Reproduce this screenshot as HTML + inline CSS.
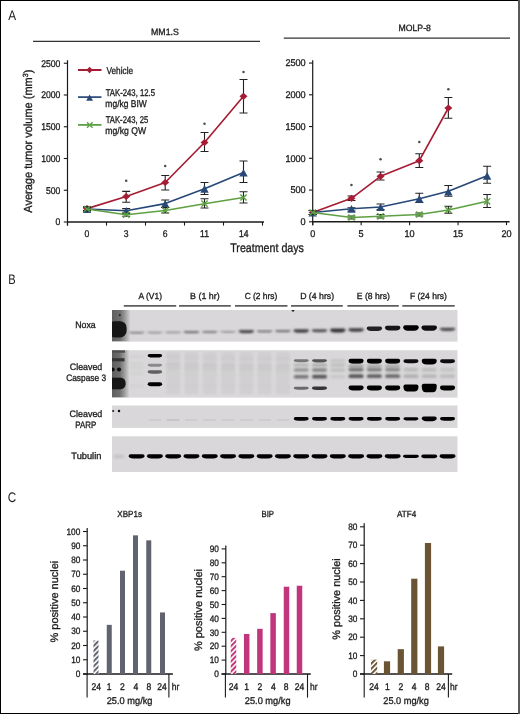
<!DOCTYPE html>
<html><head><meta charset="utf-8"><style>
html,body{margin:0;padding:0;background:#fff;width:520px;height:714px;overflow:hidden;}
svg{display:block;font-family:"Liberation Sans", sans-serif;will-change:transform;}
text{stroke:#1c1c1c;stroke-width:0.32px;}
text.pl{stroke:none;}
</style></head><body>
<svg width="520" height="714" viewBox="0 0 520 714" font-family='"Liberation Sans", sans-serif' text-rendering="geometricPrecision">
<defs>
<filter id="b0" x="-50%" y="-50%" width="200%" height="200%"><feGaussianBlur stdDeviation="0.5"/></filter>
<filter id="b1" x="-50%" y="-50%" width="200%" height="200%"><feGaussianBlur stdDeviation="0.9"/></filter>
<filter id="b2" x="-50%" y="-50%" width="200%" height="200%"><feGaussianBlur stdDeviation="1.6"/></filter>
<filter id="b3" x="-50%" y="-50%" width="200%" height="200%"><feGaussianBlur stdDeviation="2.5"/></filter>
<pattern id="hatchG" patternUnits="userSpaceOnUse" width="3.6" height="3.6" patternTransform="rotate(45)"><rect width="3.6" height="3.6" fill="#fff"/><rect width="2.0" height="3.6" fill="#61646f"/></pattern>
<pattern id="hatchM" patternUnits="userSpaceOnUse" width="3.6" height="3.6" patternTransform="rotate(45)"><rect width="3.6" height="3.6" fill="#fff"/><rect width="2.0" height="3.6" fill="#c0357b"/></pattern>
<pattern id="hatchB" patternUnits="userSpaceOnUse" width="3.6" height="3.6" patternTransform="rotate(45)"><rect width="3.6" height="3.6" fill="#fff"/><rect width="2.0" height="3.6" fill="#6b5434"/></pattern>
</defs>
<rect x="0" y="0" width="520" height="714" fill="#fff"/>
<text class="pl" x="8.32" y="19.60" font-size="13.8" fill="#1c1c1c" textLength="7.85" lengthAdjust="spacingAndGlyphs">A</text>
<text x="151.03" y="35.00" font-size="9.1" fill="#1c1c1c" textLength="27.79" lengthAdjust="spacingAndGlyphs">MM1.S</text>
<line x1="33.00" y1="41.30" x2="260.00" y2="41.30" stroke="#333" stroke-width="1.3"/>
<line x1="67.50" y1="60.20" x2="67.50" y2="225.60" stroke="#1a1a1a" stroke-width="1.2"/>
<line x1="63.80" y1="222.00" x2="67.50" y2="222.00" stroke="#1a1a1a" stroke-width="1.1"/>
<text x="55.54" y="225.40" font-size="9.8" fill="#1c1c1c" textLength="4.80" lengthAdjust="spacingAndGlyphs">0</text>
<line x1="63.80" y1="190.25" x2="67.50" y2="190.25" stroke="#1a1a1a" stroke-width="1.1"/>
<text x="45.94" y="193.65" font-size="9.8" fill="#1c1c1c" textLength="14.39" lengthAdjust="spacingAndGlyphs">500</text>
<line x1="63.80" y1="158.50" x2="67.50" y2="158.50" stroke="#1a1a1a" stroke-width="1.1"/>
<text x="41.16" y="161.90" font-size="9.8" fill="#1c1c1c" textLength="19.19" lengthAdjust="spacingAndGlyphs">1000</text>
<line x1="63.80" y1="126.75" x2="67.50" y2="126.75" stroke="#1a1a1a" stroke-width="1.1"/>
<text x="41.16" y="130.15" font-size="9.8" fill="#1c1c1c" textLength="19.19" lengthAdjust="spacingAndGlyphs">1500</text>
<line x1="63.80" y1="95.00" x2="67.50" y2="95.00" stroke="#1a1a1a" stroke-width="1.1"/>
<text x="41.16" y="98.40" font-size="9.8" fill="#1c1c1c" textLength="19.19" lengthAdjust="spacingAndGlyphs">2000</text>
<line x1="63.80" y1="63.25" x2="67.50" y2="63.25" stroke="#1a1a1a" stroke-width="1.1"/>
<text x="41.16" y="66.65" font-size="9.8" fill="#1c1c1c" textLength="19.19" lengthAdjust="spacingAndGlyphs">2500</text>
<line x1="67.00" y1="222.00" x2="264.00" y2="222.00" stroke="#1a1a1a" stroke-width="1.4"/>
<line x1="67.50" y1="222.00" x2="67.50" y2="225.60" stroke="#1a1a1a" stroke-width="1.1"/>
<line x1="106.50" y1="222.00" x2="106.50" y2="225.60" stroke="#1a1a1a" stroke-width="1.1"/>
<line x1="145.50" y1="222.00" x2="145.50" y2="225.60" stroke="#1a1a1a" stroke-width="1.1"/>
<line x1="184.50" y1="222.00" x2="184.50" y2="225.60" stroke="#1a1a1a" stroke-width="1.1"/>
<line x1="223.50" y1="222.00" x2="223.50" y2="225.60" stroke="#1a1a1a" stroke-width="1.1"/>
<line x1="262.50" y1="222.00" x2="262.50" y2="225.60" stroke="#1a1a1a" stroke-width="1.1"/>
<text x="84.60" y="236.60" font-size="9.8" fill="#1c1c1c" textLength="4.80" lengthAdjust="spacingAndGlyphs">0</text>
<text x="123.80" y="236.60" font-size="9.8" fill="#1c1c1c" textLength="4.80" lengthAdjust="spacingAndGlyphs">3</text>
<text x="162.80" y="236.60" font-size="9.8" fill="#1c1c1c" textLength="4.80" lengthAdjust="spacingAndGlyphs">6</text>
<text x="200.02" y="236.60" font-size="9.8" fill="#1c1c1c" textLength="8.95" lengthAdjust="spacingAndGlyphs">11</text>
<text x="238.90" y="236.60" font-size="9.8" fill="#1c1c1c" textLength="9.59" lengthAdjust="spacingAndGlyphs">14</text>
<text x="230.21" y="251.60" font-size="12.4" fill="#1c1c1c" textLength="73.72" lengthAdjust="spacingAndGlyphs">Treatment days</text>
<text x="-0.03" y="0" font-size="11.7" fill="#1c1c1c" textLength="143.01" lengthAdjust="spacingAndGlyphs" transform="translate(32.10,212.65) rotate(-90)">Average tumor volume (mm<tspan font-size="7.5" dy="-4.2">3</tspan><tspan dy="4.2">)</tspan></text>
<line x1="78.00" y1="70.00" x2="101.50" y2="70.00" stroke="#a51c34" stroke-width="2.0"/>
<path d="M89.60 66.70L92.80 70.00L89.60 73.30L86.40 70.00Z" fill="#a51c34"/>
<text x="106.41" y="73.50" font-size="9.9" fill="#1c1c1c" textLength="26.71" lengthAdjust="spacingAndGlyphs">Vehicle</text>
<line x1="78.00" y1="97.10" x2="101.50" y2="97.10" stroke="#284878" stroke-width="1.7"/>
<path d="M89.60 94.48L93.00 100.73L86.20 100.73Z" fill="#284878"/>
<text x="105.73" y="95.50" font-size="9.8" fill="#1c1c1c" textLength="49.25" lengthAdjust="spacingAndGlyphs">TAK-243, 12.5</text>
<text x="105.33" y="106.50" font-size="9.8" fill="#1c1c1c" textLength="41.56" lengthAdjust="spacingAndGlyphs">mg/kg BIW</text>
<line x1="78.00" y1="124.90" x2="101.50" y2="124.90" stroke="#5ea043" stroke-width="1.8"/>
<path d="M87.00 122.20Q89.8 125 92.60 127.80M92.60 122.20Q89.8 125 87.00 127.80" stroke="#5ea043" stroke-width="1.4" fill="none"/>
<text x="105.73" y="122.50" font-size="9.8" fill="#1c1c1c" textLength="42.53" lengthAdjust="spacingAndGlyphs">TAK-243, 25</text>
<text x="105.32" y="133.50" font-size="9.8" fill="#1c1c1c" textLength="40.86" lengthAdjust="spacingAndGlyphs">mg/kg QW</text>
<path d="M87.00 207.00V210.50M83.00 207.00H91.00M83.00 210.50H91.00" stroke="#222" stroke-width="1.1" fill="none"/>
<path d="M126.20 191.40V202.30M122.20 191.40H130.20M122.20 202.30H130.20" stroke="#222" stroke-width="1.1" fill="none"/>
<path d="M165.20 175.50V190.00M161.20 175.50H169.20M161.20 190.00H169.20" stroke="#222" stroke-width="1.1" fill="none"/>
<path d="M204.50 132.50V151.50M200.50 132.50H208.50M200.50 151.50H208.50" stroke="#222" stroke-width="1.1" fill="none"/>
<path d="M243.50 79.50V113.00M239.50 79.50H247.50M239.50 113.00H247.50" stroke="#222" stroke-width="1.1" fill="none"/>
<polyline points="87.00,208.60 126.20,196.50 165.20,182.50 204.50,142.50 243.50,96.30" stroke="#a51c34" stroke-width="1.65" fill="none" stroke-linejoin="round"/>
<path d="M87.00 205.00L91.00 208.60L87.00 212.20L83.00 208.60Z" fill="#a51c34"/>
<path d="M126.20 192.90L130.20 196.50L126.20 200.10L122.20 196.50Z" fill="#a51c34"/>
<path d="M165.20 178.90L169.20 182.50L165.20 186.10L161.20 182.50Z" fill="#a51c34"/>
<path d="M204.50 138.90L208.50 142.50L204.50 146.10L200.50 142.50Z" fill="#a51c34"/>
<path d="M243.50 92.70L247.50 96.30L243.50 99.90L239.50 96.30Z" fill="#a51c34"/>
<path d="M87.00 207.00V211.00M83.00 207.00H91.00M83.00 211.00H91.00" stroke="#222" stroke-width="1.1" fill="none"/>
<path d="M126.20 208.60V213.00M122.20 208.60H130.20M122.20 213.00H130.20" stroke="#222" stroke-width="1.1" fill="none"/>
<path d="M165.20 200.00V207.50M161.20 200.00H169.20M161.20 207.50H169.20" stroke="#222" stroke-width="1.1" fill="none"/>
<path d="M204.50 182.50V194.50M200.50 182.50H208.50M200.50 194.50H208.50" stroke="#222" stroke-width="1.1" fill="none"/>
<path d="M243.50 161.00V182.50M239.50 161.00H247.50M239.50 182.50H247.50" stroke="#222" stroke-width="1.1" fill="none"/>
<polyline points="87.00,209.00 126.20,210.70 165.20,203.60 204.50,188.70 243.50,172.50" stroke="#284878" stroke-width="1.65" fill="none" stroke-linejoin="round"/>
<path d="M87.00 205.39L91.20 213.12L82.80 213.12Z" fill="#284878"/>
<path d="M126.20 207.09L130.40 214.82L122.00 214.82Z" fill="#284878"/>
<path d="M165.20 199.99L169.40 207.72L161.00 207.72Z" fill="#284878"/>
<path d="M204.50 185.09L208.70 192.82L200.30 192.82Z" fill="#284878"/>
<path d="M243.50 168.89L247.70 176.62L239.30 176.62Z" fill="#284878"/>
<path d="M87.00 207.00V211.00M83.00 207.00H91.00M83.00 211.00H91.00" stroke="#222" stroke-width="1.1" fill="none"/>
<path d="M126.20 213.20V216.20M122.20 213.20H130.20M122.20 216.20H130.20" stroke="#222" stroke-width="1.1" fill="none"/>
<path d="M165.20 207.50V213.00M161.20 207.50H169.20M161.20 213.00H169.20" stroke="#222" stroke-width="1.1" fill="none"/>
<path d="M204.50 198.70V208.00M200.50 198.70H208.50M200.50 208.00H208.50" stroke="#222" stroke-width="1.1" fill="none"/>
<path d="M243.50 191.70V203.00M239.50 191.70H247.50M239.50 203.00H247.50" stroke="#222" stroke-width="1.1" fill="none"/>
<polyline points="87.00,209.00 126.20,214.70 165.20,210.50 204.50,203.70 243.50,197.50" stroke="#5ea043" stroke-width="1.65" fill="none" stroke-linejoin="round"/>
<path d="M83.90 205.90Q87 209.0 90.10 212.10M90.10 205.90Q87 209.0 83.90 212.10" stroke="#5ea043" stroke-width="1.4" fill="none"/>
<path d="M123.10 211.60Q126.2 214.7 129.30 217.80M129.30 211.60Q126.2 214.7 123.10 217.80" stroke="#5ea043" stroke-width="1.4" fill="none"/>
<path d="M162.10 207.40Q165.2 210.5 168.30 213.60M168.30 207.40Q165.2 210.5 162.10 213.60" stroke="#5ea043" stroke-width="1.4" fill="none"/>
<path d="M201.40 200.60Q204.5 203.7 207.60 206.80M207.60 200.60Q204.5 203.7 201.40 206.80" stroke="#5ea043" stroke-width="1.4" fill="none"/>
<path d="M240.40 194.40Q243.5 197.5 246.60 200.60M246.60 194.40Q243.5 197.5 240.40 200.60" stroke="#5ea043" stroke-width="1.4" fill="none"/>
<circle cx="126.20" cy="180.70" r="1.25" fill="#4a4a4a"/>
<circle cx="165.20" cy="166.00" r="1.25" fill="#4a4a4a"/>
<circle cx="204.50" cy="123.70" r="1.25" fill="#4a4a4a"/>
<circle cx="243.50" cy="72.00" r="1.25" fill="#4a4a4a"/>
<text x="398.53" y="31.40" font-size="9.1" fill="#1c1c1c" textLength="32.39" lengthAdjust="spacingAndGlyphs">MOLP-8</text>
<line x1="283.80" y1="38.10" x2="510.00" y2="38.10" stroke="#333" stroke-width="1.3"/>
<line x1="312.70" y1="60.20" x2="312.70" y2="225.20" stroke="#1a1a1a" stroke-width="1.2"/>
<line x1="309.00" y1="221.80" x2="312.70" y2="221.80" stroke="#1a1a1a" stroke-width="1.1"/>
<text x="300.58" y="225.00" font-size="9.8" fill="#1c1c1c" textLength="5.07" lengthAdjust="spacingAndGlyphs">0</text>
<line x1="309.00" y1="190.05" x2="312.70" y2="190.05" stroke="#1a1a1a" stroke-width="1.1"/>
<text x="290.44" y="193.25" font-size="9.8" fill="#1c1c1c" textLength="15.21" lengthAdjust="spacingAndGlyphs">500</text>
<line x1="309.00" y1="158.30" x2="312.70" y2="158.30" stroke="#1a1a1a" stroke-width="1.1"/>
<text x="285.39" y="161.50" font-size="9.8" fill="#1c1c1c" textLength="20.28" lengthAdjust="spacingAndGlyphs">1000</text>
<line x1="309.00" y1="126.55" x2="312.70" y2="126.55" stroke="#1a1a1a" stroke-width="1.1"/>
<text x="285.39" y="129.75" font-size="9.8" fill="#1c1c1c" textLength="20.28" lengthAdjust="spacingAndGlyphs">1500</text>
<line x1="309.00" y1="94.80" x2="312.70" y2="94.80" stroke="#1a1a1a" stroke-width="1.1"/>
<text x="285.39" y="98.00" font-size="9.8" fill="#1c1c1c" textLength="20.28" lengthAdjust="spacingAndGlyphs">2000</text>
<line x1="309.00" y1="63.05" x2="312.70" y2="63.05" stroke="#1a1a1a" stroke-width="1.1"/>
<text x="285.39" y="66.25" font-size="9.8" fill="#1c1c1c" textLength="20.28" lengthAdjust="spacingAndGlyphs">2500</text>
<line x1="312.00" y1="221.80" x2="509.60" y2="221.80" stroke="#1a1a1a" stroke-width="1.4"/>
<line x1="312.70" y1="221.80" x2="312.70" y2="225.20" stroke="#1a1a1a" stroke-width="1.1"/>
<text x="310.17" y="237.40" font-size="9.8" fill="#1c1c1c" textLength="5.07" lengthAdjust="spacingAndGlyphs">0</text>
<line x1="361.15" y1="221.80" x2="361.15" y2="225.20" stroke="#1a1a1a" stroke-width="1.1"/>
<text x="358.62" y="237.40" font-size="9.8" fill="#1c1c1c" textLength="5.07" lengthAdjust="spacingAndGlyphs">5</text>
<line x1="409.60" y1="221.80" x2="409.60" y2="225.20" stroke="#1a1a1a" stroke-width="1.1"/>
<text x="404.53" y="237.40" font-size="9.8" fill="#1c1c1c" textLength="10.14" lengthAdjust="spacingAndGlyphs">10</text>
<line x1="458.05" y1="221.80" x2="458.05" y2="225.20" stroke="#1a1a1a" stroke-width="1.1"/>
<text x="452.98" y="237.40" font-size="9.8" fill="#1c1c1c" textLength="10.14" lengthAdjust="spacingAndGlyphs">15</text>
<line x1="506.50" y1="221.80" x2="506.50" y2="225.20" stroke="#1a1a1a" stroke-width="1.1"/>
<text x="501.43" y="237.40" font-size="9.8" fill="#1c1c1c" textLength="10.14" lengthAdjust="spacingAndGlyphs">20</text>
<path d="M312.70 210.50V214.50M308.70 210.50H316.70M308.70 214.50H316.70" stroke="#222" stroke-width="1.1" fill="none"/>
<path d="M351.46 196.00V200.50M347.46 196.00H355.46M347.46 200.50H355.46" stroke="#222" stroke-width="1.1" fill="none"/>
<path d="M380.53 172.00V180.00M376.53 172.00H384.53M376.53 180.00H384.53" stroke="#222" stroke-width="1.1" fill="none"/>
<path d="M419.29 153.70V167.50M415.29 153.70H423.29M415.29 167.50H423.29" stroke="#222" stroke-width="1.1" fill="none"/>
<path d="M448.36 97.50V118.20M444.36 97.50H452.36M444.36 118.20H452.36" stroke="#222" stroke-width="1.1" fill="none"/>
<polyline points="312.70,212.50 351.46,198.30 380.53,176.30 419.29,160.70 448.36,108.00" stroke="#a51c34" stroke-width="1.65" fill="none" stroke-linejoin="round"/>
<path d="M312.70 208.90L316.70 212.50L312.70 216.10L308.70 212.50Z" fill="#a51c34"/>
<path d="M351.46 194.70L355.46 198.30L351.46 201.90L347.46 198.30Z" fill="#a51c34"/>
<path d="M380.53 172.70L384.53 176.30L380.53 179.90L376.53 176.30Z" fill="#a51c34"/>
<path d="M419.29 157.10L423.29 160.70L419.29 164.30L415.29 160.70Z" fill="#a51c34"/>
<path d="M448.36 104.40L452.36 108.00L448.36 111.60L444.36 108.00Z" fill="#a51c34"/>
<path d="M312.70 210.50V214.50M308.70 210.50H316.70M308.70 214.50H316.70" stroke="#222" stroke-width="1.1" fill="none"/>
<path d="M351.46 207.80V211.00M347.46 207.80H355.46M347.46 211.00H355.46" stroke="#222" stroke-width="1.1" fill="none"/>
<path d="M380.53 204.00V209.50M376.53 204.00H384.53M376.53 209.50H384.53" stroke="#222" stroke-width="1.1" fill="none"/>
<path d="M419.29 193.20V202.50M415.29 193.20H423.29M415.29 202.50H423.29" stroke="#222" stroke-width="1.1" fill="none"/>
<path d="M448.36 185.50V196.20M444.36 185.50H452.36M444.36 196.20H452.36" stroke="#222" stroke-width="1.1" fill="none"/>
<path d="M487.12 166.20V183.20M483.12 166.20H491.12M483.12 183.20H491.12" stroke="#222" stroke-width="1.1" fill="none"/>
<polyline points="312.70,212.50 351.46,208.70 380.53,207.00 419.29,198.70 448.36,191.30 487.12,175.70" stroke="#284878" stroke-width="1.65" fill="none" stroke-linejoin="round"/>
<path d="M312.70 208.89L316.90 216.62L308.50 216.62Z" fill="#284878"/>
<path d="M351.46 205.09L355.66 212.82L347.26 212.82Z" fill="#284878"/>
<path d="M380.53 203.39L384.73 211.12L376.33 211.12Z" fill="#284878"/>
<path d="M419.29 195.09L423.49 202.82L415.09 202.82Z" fill="#284878"/>
<path d="M448.36 187.69L452.56 195.42L444.16 195.42Z" fill="#284878"/>
<path d="M487.12 172.09L491.32 179.82L482.92 179.82Z" fill="#284878"/>
<path d="M312.70 210.50V214.50M308.70 210.50H316.70M308.70 214.50H316.70" stroke="#222" stroke-width="1.1" fill="none"/>
<path d="M351.46 216.00V219.00M347.46 216.00H355.46M347.46 219.00H355.46" stroke="#222" stroke-width="1.1" fill="none"/>
<path d="M380.53 214.50V218.00M376.53 214.50H384.53M376.53 218.00H384.53" stroke="#222" stroke-width="1.1" fill="none"/>
<path d="M419.29 213.00V216.00M415.29 213.00H423.29M415.29 216.00H423.29" stroke="#222" stroke-width="1.1" fill="none"/>
<path d="M448.36 206.20V213.20M444.36 206.20H452.36M444.36 213.20H452.36" stroke="#222" stroke-width="1.1" fill="none"/>
<path d="M487.12 194.50V207.50M483.12 194.50H491.12M483.12 207.50H491.12" stroke="#222" stroke-width="1.1" fill="none"/>
<polyline points="312.70,212.50 351.46,217.50 380.53,216.30 419.29,214.50 448.36,210.00 487.12,201.30" stroke="#5ea043" stroke-width="1.65" fill="none" stroke-linejoin="round"/>
<path d="M309.60 209.40Q312.7 212.5 315.80 215.60M315.80 209.40Q312.7 212.5 309.60 215.60" stroke="#5ea043" stroke-width="1.4" fill="none"/>
<path d="M348.36 214.40Q351.46 217.5 354.56 220.60M354.56 214.40Q351.46 217.5 348.36 220.60" stroke="#5ea043" stroke-width="1.4" fill="none"/>
<path d="M377.43 213.20Q380.53 216.3 383.63 219.40M383.63 213.20Q380.53 216.3 377.43 219.40" stroke="#5ea043" stroke-width="1.4" fill="none"/>
<path d="M416.19 211.40Q419.28999999999996 214.5 422.39 217.60M422.39 211.40Q419.28999999999996 214.5 416.19 217.60" stroke="#5ea043" stroke-width="1.4" fill="none"/>
<path d="M445.26 206.90Q448.36 210 451.46 213.10M451.46 206.90Q448.36 210 445.26 213.10" stroke="#5ea043" stroke-width="1.4" fill="none"/>
<path d="M484.02 198.20Q487.12 201.3 490.22 204.40M490.22 198.20Q487.12 201.3 484.02 204.40" stroke="#5ea043" stroke-width="1.4" fill="none"/>
<circle cx="351.46" cy="185.00" r="1.25" fill="#4a4a4a"/>
<circle cx="380.53" cy="159.30" r="1.25" fill="#4a4a4a"/>
<circle cx="419.29" cy="142.00" r="1.25" fill="#4a4a4a"/>
<circle cx="448.36" cy="89.30" r="1.25" fill="#4a4a4a"/>
<text class="pl" x="8.24" y="283.75" font-size="13.8" fill="#1c1c1c" textLength="7.39" lengthAdjust="spacingAndGlyphs">B</text>
<line x1="123.80" y1="305.90" x2="176.20" y2="305.90" stroke="#5e5e5e" stroke-width="1.8"/>
<text x="138.53" y="299.20" font-size="8.9" fill="#1c1c1c" textLength="23.46" lengthAdjust="spacingAndGlyphs">A (V1)</text>
<line x1="179.00" y1="305.90" x2="230.80" y2="305.90" stroke="#5e5e5e" stroke-width="1.8"/>
<text x="190.12" y="299.20" font-size="8.9" fill="#1c1c1c" textLength="29.60" lengthAdjust="spacingAndGlyphs">B (1 hr)</text>
<line x1="235.00" y1="305.90" x2="287.50" y2="305.90" stroke="#5e5e5e" stroke-width="1.8"/>
<text x="244.63" y="299.20" font-size="8.9" fill="#1c1c1c" textLength="32.74" lengthAdjust="spacingAndGlyphs">C (2 hrs)</text>
<line x1="291.00" y1="305.90" x2="342.80" y2="305.90" stroke="#5e5e5e" stroke-width="1.8"/>
<text x="300.13" y="299.20" font-size="8.9" fill="#1c1c1c" textLength="33.96" lengthAdjust="spacingAndGlyphs">D (4 hrs)</text>
<line x1="347.40" y1="305.90" x2="398.80" y2="305.90" stroke="#5e5e5e" stroke-width="1.8"/>
<text x="356.84" y="299.20" font-size="8.9" fill="#1c1c1c" textLength="33.06" lengthAdjust="spacingAndGlyphs">E (8 hrs)</text>
<line x1="402.30" y1="305.90" x2="454.70" y2="305.90" stroke="#5e5e5e" stroke-width="1.8"/>
<text x="409.95" y="299.20" font-size="8.9" fill="#1c1c1c" textLength="36.95" lengthAdjust="spacingAndGlyphs">F (24 hrs)</text>
<text x="75.28" y="327.80" font-size="9.4" fill="#1c1c1c" textLength="20.39" lengthAdjust="spacingAndGlyphs">Noxa</text>
<text x="69.81" y="370.10" font-size="9.4" fill="#1c1c1c" textLength="32.51" lengthAdjust="spacingAndGlyphs">Cleaved</text>
<text x="66.13" y="381.40" font-size="9.4" fill="#1c1c1c" textLength="39.98" lengthAdjust="spacingAndGlyphs">Caspase 3</text>
<text x="69.60" y="416.50" font-size="9.4" fill="#1c1c1c" textLength="32.72" lengthAdjust="spacingAndGlyphs">Cleaved</text>
<text x="75.30" y="428.00" font-size="9.4" fill="#1c1c1c" textLength="20.96" lengthAdjust="spacingAndGlyphs">PARP</text>
<text x="71.34" y="458.80" font-size="9.4" fill="#1c1c1c" textLength="30.01" lengthAdjust="spacingAndGlyphs">Tubulin</text>
<rect x="112" y="310" width="345.5" height="31.6" fill="#d9d7d9"/>
<rect x="112" y="350.2" width="345.5" height="47.4" fill="#d9d7d9"/>
<rect x="112" y="405.5" width="345.5" height="22.4" fill="#d9d7d9"/>
<rect x="112" y="436.3" width="345.5" height="35.7" fill="#d9d7d9"/>
<clipPath id="blots"><rect x="112" y="310" width="345.5" height="31.6"/><rect x="112" y="350.2" width="345.5" height="47.4"/><rect x="112" y="405.5" width="345.5" height="22.4"/><rect x="112" y="436.3" width="345.5" height="35.7"/></clipPath>
<g clip-path="url(#blots)">
<linearGradient id="mkg" x1="0" x2="1" y1="0" y2="0"><stop offset="0" stop-color="#5e5e5e"/><stop offset="0.45" stop-color="#6e6e6e"/><stop offset="0.72" stop-color="#9a9a9a"/><stop offset="1" stop-color="#d2d1d2"/></linearGradient>
<rect x="112" y="310" width="18" height="31.6" fill="url(#mkg)"/>
<rect x="108" y="321.2" width="18.6" height="16.2" rx="6.5" fill="#141414" filter="url(#b0)"/>
<rect x="118.70" y="314.10" width="2.20" height="2.20" rx="1.10" fill="rgb(43,43,43)" filter="url(#b0)"/>
<path d="M291.3 310L294.7 310L293 312.2Z" fill="#222"/>
<path d="M128.85 332.80Q128.85 331.80 129.85 331.80L143.35 331.80Q144.35 331.80 144.35 332.80C144.35 332.92 142.35 333.80 139.85 333.80L133.35 333.80C130.85 333.80 128.85 332.92 128.85 332.80Z" fill="rgb(132,132,132)" filter="url(#b1)"/>
<path d="M147.14 332.60Q147.14 331.68 148.06 331.68L161.72 331.68Q162.64 331.68 162.64 332.60C162.64 332.70 160.64 333.52 158.14 333.52L151.64 333.52C149.14 333.52 147.14 332.70 147.14 332.60Z" fill="rgb(145,145,145)" filter="url(#b1)"/>
<path d="M165.43 332.40Q165.43 331.51 166.32 331.51L180.04 331.51Q180.93 331.51 180.93 332.40C180.93 332.49 178.93 333.29 176.43 333.29L169.93 333.29C167.43 333.29 165.43 332.49 165.43 332.40Z" fill="rgb(149,149,149)" filter="url(#b1)"/>
<path d="M183.72 332.20Q183.72 331.07 184.85 331.07L198.09 331.07Q199.22 331.07 199.22 332.20C199.22 332.38 197.22 333.33 194.72 333.33L188.22 333.33C185.72 333.33 183.72 332.38 183.72 332.20Z" fill="rgb(117,117,117)" filter="url(#b1)"/>
<path d="M202.01 332.00Q202.01 330.93 203.08 330.93L216.44 330.93Q217.51 330.93 217.51 332.00C217.51 332.15 215.51 333.07 213.01 333.07L206.51 333.07C204.01 333.07 202.01 332.15 202.01 332.00Z" fill="rgb(124,124,124)" filter="url(#b1)"/>
<path d="M220.30 331.80Q220.30 330.88 221.22 330.88L234.88 330.88Q235.80 330.88 235.80 331.80C235.80 331.90 233.80 332.72 231.30 332.72L224.80 332.72C222.30 332.72 220.30 331.90 220.30 331.80Z" fill="rgb(145,145,145)" filter="url(#b1)"/>
<path d="M238.59 331.60Q238.59 330.01 240.18 330.01L252.50 330.01Q254.09 330.01 254.09 331.60C254.09 332.04 252.09 333.19 249.59 333.19L243.09 333.19C240.59 333.19 238.59 332.04 238.59 331.60Z" fill="rgb(75,75,75)" filter="url(#b1)"/>
<path d="M256.88 331.40Q256.88 330.33 257.95 330.33L271.31 330.33Q272.38 330.33 272.38 331.40C272.38 331.55 270.38 332.47 267.88 332.47L261.38 332.47C258.88 332.47 256.88 331.55 256.88 331.40Z" fill="rgb(124,124,124)" filter="url(#b1)"/>
<path d="M275.17 331.20Q275.17 330.07 276.30 330.07L289.54 330.07Q290.67 330.07 290.67 331.20C290.67 331.38 288.67 332.33 286.17 332.33L279.67 332.33C277.17 332.33 275.17 331.38 275.17 331.20Z" fill="rgb(117,117,117)" filter="url(#b1)"/>
<path d="M293.46 331.00Q293.46 329.27 295.19 329.27L307.23 329.27Q308.96 329.27 308.96 331.00C308.96 331.53 306.96 332.73 304.46 332.73L297.96 332.73C295.46 332.73 293.46 331.53 293.46 331.00Z" fill="rgb(64,64,64)" filter="url(#b1)"/>
<path d="M311.75 330.80Q311.75 329.29 313.26 329.29L325.74 329.29Q327.25 329.29 327.25 330.80C327.25 331.19 325.25 332.31 322.75 332.31L316.25 332.31C313.75 332.31 311.75 331.19 311.75 330.80Z" fill="rgb(81,81,81)" filter="url(#b1)"/>
<path d="M330.04 330.50Q330.04 328.62 331.92 328.62L343.66 328.62Q345.54 328.62 345.54 330.50C345.54 331.13 343.54 332.38 341.04 332.38L334.54 332.38C332.04 332.38 330.04 331.13 330.04 330.50Z" fill="rgb(53,53,53)" filter="url(#b1)"/>
<path d="M348.33 330.00Q348.33 328.21 350.12 328.21L362.04 328.21Q363.83 328.21 363.83 330.00C363.83 330.57 361.83 331.79 359.33 331.79L352.83 331.79C350.33 331.79 348.33 330.57 348.33 330.00Z" fill="rgb(60,60,60)" filter="url(#b1)"/>
<path d="M366.62 328.48Q366.62 326.48 368.62 326.48L380.12 326.48Q382.12 326.48 382.12 328.48C382.12 329.57 380.12 330.92 377.62 330.92L371.12 330.92C368.62 330.92 366.62 329.57 366.62 328.48Z" fill="rgb(32,32,32)" filter="url(#b0)"/>
<path d="M384.91 327.80Q384.91 325.80 386.91 325.80L398.41 325.80Q400.41 325.80 400.41 327.80C400.41 329.20 398.41 330.60 395.91 330.60L389.41 330.60C386.91 330.60 384.91 329.20 384.91 327.80Z" fill="rgb(21,21,21)" filter="url(#b0)"/>
<path d="M403.20 327.20Q403.20 325.20 405.20 325.20L416.70 325.20Q418.70 325.20 418.70 327.20C418.70 329.30 416.70 330.80 414.20 330.80L407.70 330.80C405.20 330.80 403.20 329.30 403.20 327.20Z" fill="rgb(0,0,0)" filter="url(#b0)"/>
<path d="M421.49 327.50Q421.49 325.50 423.49 325.50L434.99 325.50Q436.99 325.50 436.99 327.50C436.99 329.25 434.99 330.70 432.49 330.70L425.99 330.70C423.49 330.70 421.49 329.25 421.49 327.50Z" fill="rgb(11,11,11)" filter="url(#b0)"/>
<path d="M439.78 329.30Q439.78 327.71 441.37 327.71L453.69 327.71Q455.28 327.71 455.28 329.30C455.28 329.74 453.28 330.89 450.78 330.89L444.28 330.89C441.78 330.89 439.78 329.74 439.78 329.30Z" fill="rgb(75,75,75)" filter="url(#b1)"/>
<rect x="112" y="350.2" width="17" height="47.4" fill="url(#mkg)"/>
<rect x="112" y="350.2" width="13" height="2.5" fill="#505050" filter="url(#b0)"/>
<rect x="110" y="358.2" width="14.5" height="3.2" fill="#353535" filter="url(#b0)"/>
<circle cx="112.7" cy="369.5" r="2" fill="#111" filter="url(#b0)"/>
<circle cx="119" cy="369.5" r="2.1" fill="#111" filter="url(#b0)"/>
<rect x="108" y="377.8" width="17.6" height="11.4" rx="5" fill="#141414" filter="url(#b0)"/>
<rect x="166.68" y="352" width="13" height="42" fill="#000" opacity="0.035" filter="url(#b1)"/>
<rect x="184.97" y="352" width="13" height="42" fill="#000" opacity="0.035" filter="url(#b1)"/>
<rect x="203.26" y="352" width="13" height="42" fill="#000" opacity="0.035" filter="url(#b1)"/>
<rect x="221.55" y="352" width="13" height="42" fill="#000" opacity="0.035" filter="url(#b1)"/>
<rect x="239.84" y="352" width="13" height="42" fill="#000" opacity="0.035" filter="url(#b1)"/>
<rect x="258.13" y="352" width="13" height="42" fill="#000" opacity="0.035" filter="url(#b1)"/>
<rect x="276.42" y="352" width="13" height="42" fill="#000" opacity="0.035" filter="url(#b1)"/>
<rect x="129.60" y="355.00" width="14.00" height="3.00" rx="1.50" fill="rgb(210,210,210)" filter="url(#b1)"/>
<rect x="129.60" y="362.50" width="14.00" height="3.00" rx="1.50" fill="rgb(210,210,210)" filter="url(#b1)"/>
<rect x="129.60" y="366.00" width="14.00" height="3.00" rx="1.50" fill="rgb(210,210,210)" filter="url(#b1)"/>
<rect x="129.60" y="371.50" width="14.00" height="3.00" rx="1.50" fill="rgb(210,210,210)" filter="url(#b1)"/>
<rect x="129.60" y="384.25" width="14.00" height="2.50" rx="1.25" fill="rgb(210,210,210)" filter="url(#b1)"/>
<rect x="166.18" y="355.59" width="14.00" height="3.00" rx="1.50" fill="rgb(204,204,204)" filter="url(#b1)"/>
<rect x="166.18" y="363.09" width="14.00" height="3.00" rx="1.50" fill="rgb(200,200,200)" filter="url(#b1)"/>
<rect x="166.18" y="366.59" width="14.00" height="3.00" rx="1.50" fill="rgb(202,202,202)" filter="url(#b1)"/>
<rect x="166.18" y="372.09" width="14.00" height="3.00" rx="1.50" fill="rgb(208,208,208)" filter="url(#b1)"/>
<rect x="166.18" y="384.60" width="14.00" height="2.50" rx="1.25" fill="rgb(207,207,207)" filter="url(#b1)"/>
<rect x="184.47" y="355.88" width="14.00" height="3.00" rx="1.50" fill="rgb(204,204,204)" filter="url(#b1)"/>
<rect x="184.47" y="363.38" width="14.00" height="3.00" rx="1.50" fill="rgb(200,200,200)" filter="url(#b1)"/>
<rect x="184.47" y="366.88" width="14.00" height="3.00" rx="1.50" fill="rgb(202,202,202)" filter="url(#b1)"/>
<rect x="184.47" y="372.38" width="14.00" height="3.00" rx="1.50" fill="rgb(208,208,208)" filter="url(#b1)"/>
<rect x="184.47" y="384.78" width="14.00" height="2.50" rx="1.25" fill="rgb(207,207,207)" filter="url(#b1)"/>
<rect x="202.76" y="356.18" width="14.00" height="3.00" rx="1.50" fill="rgb(204,204,204)" filter="url(#b1)"/>
<rect x="202.76" y="363.68" width="14.00" height="3.00" rx="1.50" fill="rgb(200,200,200)" filter="url(#b1)"/>
<rect x="202.76" y="367.18" width="14.00" height="3.00" rx="1.50" fill="rgb(202,202,202)" filter="url(#b1)"/>
<rect x="202.76" y="372.68" width="14.00" height="3.00" rx="1.50" fill="rgb(208,208,208)" filter="url(#b1)"/>
<rect x="202.76" y="384.96" width="14.00" height="2.50" rx="1.25" fill="rgb(207,207,207)" filter="url(#b1)"/>
<rect x="221.05" y="356.47" width="14.00" height="3.00" rx="1.50" fill="rgb(204,204,204)" filter="url(#b1)"/>
<rect x="221.05" y="363.97" width="14.00" height="3.00" rx="1.50" fill="rgb(200,200,200)" filter="url(#b1)"/>
<rect x="221.05" y="367.47" width="14.00" height="3.00" rx="1.50" fill="rgb(202,202,202)" filter="url(#b1)"/>
<rect x="221.05" y="372.97" width="14.00" height="3.00" rx="1.50" fill="rgb(208,208,208)" filter="url(#b1)"/>
<rect x="221.05" y="385.13" width="14.00" height="2.50" rx="1.25" fill="rgb(207,207,207)" filter="url(#b1)"/>
<rect x="239.34" y="356.76" width="14.00" height="3.00" rx="1.50" fill="rgb(204,204,204)" filter="url(#b1)"/>
<rect x="239.34" y="364.26" width="14.00" height="3.00" rx="1.50" fill="rgb(200,200,200)" filter="url(#b1)"/>
<rect x="239.34" y="367.76" width="14.00" height="3.00" rx="1.50" fill="rgb(202,202,202)" filter="url(#b1)"/>
<rect x="239.34" y="373.26" width="14.00" height="3.00" rx="1.50" fill="rgb(208,208,208)" filter="url(#b1)"/>
<rect x="239.34" y="385.31" width="14.00" height="2.50" rx="1.25" fill="rgb(207,207,207)" filter="url(#b1)"/>
<rect x="257.63" y="357.06" width="14.00" height="3.00" rx="1.50" fill="rgb(204,204,204)" filter="url(#b1)"/>
<rect x="257.63" y="364.56" width="14.00" height="3.00" rx="1.50" fill="rgb(200,200,200)" filter="url(#b1)"/>
<rect x="257.63" y="368.06" width="14.00" height="3.00" rx="1.50" fill="rgb(202,202,202)" filter="url(#b1)"/>
<rect x="257.63" y="373.56" width="14.00" height="3.00" rx="1.50" fill="rgb(208,208,208)" filter="url(#b1)"/>
<rect x="257.63" y="385.49" width="14.00" height="2.50" rx="1.25" fill="rgb(207,207,207)" filter="url(#b1)"/>
<rect x="275.92" y="357.35" width="14.00" height="3.00" rx="1.50" fill="rgb(204,204,204)" filter="url(#b1)"/>
<rect x="275.92" y="364.85" width="14.00" height="3.00" rx="1.50" fill="rgb(200,200,200)" filter="url(#b1)"/>
<rect x="275.92" y="368.35" width="14.00" height="3.00" rx="1.50" fill="rgb(202,202,202)" filter="url(#b1)"/>
<rect x="275.92" y="373.85" width="14.00" height="3.00" rx="1.50" fill="rgb(208,208,208)" filter="url(#b1)"/>
<rect x="275.92" y="385.66" width="14.00" height="2.50" rx="1.25" fill="rgb(207,207,207)" filter="url(#b1)"/>
<path d="M147.64 355.80Q147.64 354.00 149.44 354.00L160.34 354.00Q162.14 354.00 162.14 355.80C162.14 357.00 160.14 357.60 157.64 357.60L152.14 357.60C149.64 357.60 147.64 357.00 147.64 355.80Z" fill="rgb(0,0,0)" filter="url(#b0)"/>
<path d="M147.64 365.30Q147.64 363.80 149.14 363.80L160.64 363.80Q162.14 363.80 162.14 365.30C162.14 366.20 160.14 366.80 157.64 366.80L152.14 366.80C149.64 366.80 147.64 366.20 147.64 365.30Z" fill="rgb(138,138,138)" filter="url(#b0)"/>
<path d="M147.64 372.00Q147.64 370.30 149.34 370.30L160.44 370.30Q162.14 370.30 162.14 372.00C162.14 373.10 160.14 373.70 157.64 373.70L152.14 373.70C149.64 373.70 147.64 373.10 147.64 372.00Z" fill="rgb(96,96,96)" filter="url(#b0)"/>
<path d="M147.64 384.30Q147.64 382.30 149.64 382.30L160.14 382.30Q162.14 382.30 162.14 384.30C162.14 385.70 160.14 386.30 157.64 386.30L152.14 386.30C149.64 386.30 147.64 385.70 147.64 384.30Z" fill="rgb(0,0,0)" filter="url(#b0)"/>
<path d="M293.71 360.80Q293.71 359.30 295.21 359.30L307.21 359.30Q308.71 359.30 308.71 360.80C308.71 361.50 306.71 362.30 304.21 362.30L298.21 362.30C295.71 362.30 293.71 361.50 293.71 360.80Z" fill="rgb(117,117,117)" filter="url(#b0)"/>
<rect x="293.71" y="363.45" width="15.00" height="3.10" rx="1.55" fill="rgb(181,181,181)" filter="url(#b1)"/>
<rect x="293.71" y="368.20" width="15.00" height="3.60" rx="1.80" fill="rgb(149,149,149)" filter="url(#b1)"/>
<rect x="293.71" y="374.90" width="15.00" height="3.60" rx="1.80" fill="rgb(117,117,117)" filter="url(#b1)"/>
<path d="M293.71 388.30Q293.71 386.80 295.21 386.80L307.21 386.80Q308.71 386.80 308.71 388.30C308.71 389.00 306.71 389.80 304.21 389.80L298.21 389.80C295.71 389.80 293.71 389.00 293.71 388.30Z" fill="rgb(106,106,106)" filter="url(#b0)"/>
<path d="M312.00 360.80Q312.00 359.20 313.60 359.20L325.40 359.20Q327.00 359.20 327.00 360.80C327.00 361.60 325.00 362.40 322.50 362.40L316.50 362.40C314.00 362.40 312.00 361.60 312.00 360.80Z" fill="rgb(81,81,81)" filter="url(#b0)"/>
<rect x="312.00" y="363.45" width="15.00" height="3.10" rx="1.55" fill="rgb(170,170,170)" filter="url(#b1)"/>
<rect x="312.00" y="368.20" width="15.00" height="3.60" rx="1.80" fill="rgb(132,132,132)" filter="url(#b1)"/>
<rect x="312.00" y="374.80" width="15.00" height="3.80" rx="1.90" fill="rgb(85,85,85)" filter="url(#b1)"/>
<path d="M312.00 388.30Q312.00 386.55 313.75 386.55L325.25 386.55Q327.00 386.55 327.00 388.30C327.00 389.25 325.00 390.05 322.50 390.05L316.50 390.05C314.00 390.05 312.00 389.25 312.00 388.30Z" fill="rgb(53,53,53)" filter="url(#b0)"/>
<rect x="330.29" y="359.30" width="15.00" height="3.00" rx="1.50" fill="rgb(196,196,196)" filter="url(#b1)"/>
<rect x="330.29" y="363.20" width="15.00" height="3.60" rx="1.80" fill="rgb(192,192,192)" filter="url(#b1)"/>
<rect x="330.29" y="368.20" width="15.00" height="3.60" rx="1.80" fill="rgb(192,192,192)" filter="url(#b1)"/>
<rect x="330.29" y="374.90" width="15.00" height="3.60" rx="1.80" fill="rgb(200,200,200)" filter="url(#b1)"/>
<path d="M348.58 360.70Q348.58 358.70 350.58 358.70L361.58 358.70Q363.58 358.70 363.58 360.70C363.58 362.90 361.58 363.70 359.08 363.70L353.08 363.70C350.58 363.70 348.58 362.90 348.58 360.70Z" fill="rgb(0,0,0)" filter="url(#b0)"/>
<rect x="348.58" y="364.45" width="15.00" height="3.10" rx="1.55" fill="rgb(160,160,160)" filter="url(#b1)"/>
<rect x="348.58" y="367.80" width="15.00" height="3.60" rx="1.80" fill="rgb(117,117,117)" filter="url(#b1)"/>
<rect x="348.58" y="374.30" width="15.00" height="3.80" rx="1.90" fill="rgb(85,85,85)" filter="url(#b1)"/>
<path d="M348.58 387.40Q348.58 385.40 350.58 385.40L361.58 385.40Q363.58 385.40 363.58 387.40C363.58 389.60 361.58 390.40 359.08 390.40L353.08 390.40C350.58 390.40 348.58 389.60 348.58 387.40Z" fill="rgb(0,0,0)" filter="url(#b0)"/>
<path d="M366.87 360.70Q366.87 358.70 368.87 358.70L379.87 358.70Q381.87 358.70 381.87 360.70C381.87 362.90 379.87 363.70 377.37 363.70L371.37 363.70C368.87 363.70 366.87 362.90 366.87 360.70Z" fill="rgb(0,0,0)" filter="url(#b0)"/>
<rect x="366.87" y="364.45" width="15.00" height="3.10" rx="1.55" fill="rgb(170,170,170)" filter="url(#b1)"/>
<rect x="366.87" y="367.80" width="15.00" height="3.60" rx="1.80" fill="rgb(128,128,128)" filter="url(#b1)"/>
<rect x="366.87" y="374.30" width="15.00" height="3.80" rx="1.90" fill="rgb(96,96,96)" filter="url(#b1)"/>
<path d="M366.87 387.40Q366.87 385.40 368.87 385.40L379.87 385.40Q381.87 385.40 381.87 387.40C381.87 389.60 379.87 390.40 377.37 390.40L371.37 390.40C368.87 390.40 366.87 389.60 366.87 387.40Z" fill="rgb(0,0,0)" filter="url(#b0)"/>
<path d="M385.16 360.70Q385.16 358.70 387.16 358.70L398.16 358.70Q400.16 358.70 400.16 360.70C400.16 362.90 398.16 363.70 395.66 363.70L389.66 363.70C387.16 363.70 385.16 362.90 385.16 360.70Z" fill="rgb(0,0,0)" filter="url(#b0)"/>
<rect x="385.16" y="364.45" width="15.00" height="3.10" rx="1.55" fill="rgb(170,170,170)" filter="url(#b1)"/>
<rect x="385.16" y="367.80" width="15.00" height="3.60" rx="1.80" fill="rgb(138,138,138)" filter="url(#b1)"/>
<rect x="385.16" y="374.30" width="15.00" height="3.80" rx="1.90" fill="rgb(106,106,106)" filter="url(#b1)"/>
<path d="M385.16 387.40Q385.16 385.40 387.16 385.40L398.16 385.40Q400.16 385.40 400.16 387.40C400.16 389.60 398.16 390.40 395.66 390.40L389.66 390.40C387.16 390.40 385.16 389.60 385.16 387.40Z" fill="rgb(0,0,0)" filter="url(#b0)"/>
<path d="M403.45 361.20Q403.45 359.20 405.45 359.20L416.45 359.20Q418.45 359.20 418.45 361.20C418.45 362.40 416.45 363.20 413.95 363.20L407.95 363.20C405.45 363.20 403.45 362.40 403.45 361.20Z" fill="rgb(11,11,11)" filter="url(#b0)"/>
<rect x="403.45" y="367.80" width="15.00" height="3.60" rx="1.80" fill="rgb(187,187,187)" filter="url(#b1)"/>
<rect x="403.45" y="374.40" width="15.00" height="3.60" rx="1.80" fill="rgb(175,175,175)" filter="url(#b1)"/>
<path d="M403.45 386.50Q403.45 384.50 405.45 384.50L416.45 384.50Q418.45 384.50 418.45 386.50C418.45 390.70 416.45 391.50 413.95 391.50L407.95 391.50C405.45 391.50 403.45 390.70 403.45 386.50Z" fill="rgb(0,0,0)" filter="url(#b0)"/>
<path d="M421.74 360.80Q421.74 358.80 423.74 358.80L434.74 358.80Q436.74 358.80 436.74 360.80C436.74 363.60 434.74 364.40 432.24 364.40L426.24 364.40C423.74 364.40 421.74 363.60 421.74 360.80Z" fill="rgb(0,0,0)" filter="url(#b0)"/>
<rect x="421.74" y="367.80" width="15.00" height="3.60" rx="1.80" fill="rgb(187,187,187)" filter="url(#b1)"/>
<rect x="421.74" y="374.40" width="15.00" height="3.60" rx="1.80" fill="rgb(181,181,181)" filter="url(#b1)"/>
<path d="M421.74 385.75Q421.74 383.75 423.74 383.75L434.74 383.75Q436.74 383.75 436.74 385.75C436.74 391.45 434.74 392.25 432.24 392.25L426.24 392.25C423.74 392.25 421.74 391.45 421.74 385.75Z" fill="rgb(0,0,0)" filter="url(#b0)"/>
<path d="M440.03 361.20Q440.03 359.20 442.03 359.20L453.03 359.20Q455.03 359.20 455.03 361.20C455.03 362.40 453.03 363.20 450.53 363.20L444.53 363.20C442.03 363.20 440.03 362.40 440.03 361.20Z" fill="rgb(11,11,11)" filter="url(#b0)"/>
<rect x="440.03" y="367.80" width="15.00" height="3.60" rx="1.80" fill="rgb(196,196,196)" filter="url(#b1)"/>
<rect x="440.03" y="374.40" width="15.00" height="3.60" rx="1.80" fill="rgb(187,187,187)" filter="url(#b1)"/>
<path d="M440.03 387.50Q440.03 385.50 442.03 385.50L453.03 385.50Q455.03 385.50 455.03 387.50C455.03 389.70 453.03 390.50 450.53 390.50L444.53 390.50C442.03 390.50 440.03 389.70 440.03 387.50Z" fill="rgb(0,0,0)" filter="url(#b0)"/>
<rect x="112.20" y="410.00" width="2.00" height="2.00" rx="1.00" fill="rgb(21,21,21)" filter="url(#b0)"/>
<rect x="117.75" y="409.75" width="2.50" height="2.50" rx="1.25" fill="rgb(11,11,11)" filter="url(#b0)"/>
<rect x="148.39" y="419.40" width="13.00" height="1.20" rx="0.60" fill="rgb(196,196,196)" filter="url(#b0)"/>
<rect x="166.68" y="419.40" width="13.00" height="1.20" rx="0.60" fill="rgb(181,181,181)" filter="url(#b0)"/>
<rect x="184.97" y="419.40" width="13.00" height="1.20" rx="0.60" fill="rgb(196,196,196)" filter="url(#b0)"/>
<rect x="203.26" y="419.40" width="13.00" height="1.20" rx="0.60" fill="rgb(196,196,196)" filter="url(#b0)"/>
<rect x="221.55" y="419.40" width="13.00" height="1.20" rx="0.60" fill="rgb(196,196,196)" filter="url(#b0)"/>
<rect x="239.84" y="419.40" width="13.00" height="1.20" rx="0.60" fill="rgb(196,196,196)" filter="url(#b0)"/>
<rect x="258.13" y="419.40" width="13.00" height="1.20" rx="0.60" fill="rgb(196,196,196)" filter="url(#b0)"/>
<rect x="276.42" y="419.40" width="13.00" height="1.20" rx="0.60" fill="rgb(196,196,196)" filter="url(#b0)"/>
<path d="M293.71 418.90Q293.71 417.10 295.51 417.10L306.91 417.10Q308.71 417.10 308.71 418.90C308.71 419.50 306.71 420.70 304.21 420.70L298.21 420.70C295.71 420.70 293.71 419.50 293.71 418.90Z" fill="rgb(0,0,0)" filter="url(#b0)"/>
<path d="M312.00 418.90Q312.00 417.10 313.80 417.10L325.20 417.10Q327.00 417.10 327.00 418.90C327.00 419.50 325.00 420.70 322.50 420.70L316.50 420.70C314.00 420.70 312.00 419.50 312.00 418.90Z" fill="rgb(0,0,0)" filter="url(#b0)"/>
<path d="M330.29 418.90Q330.29 417.10 332.09 417.10L343.49 417.10Q345.29 417.10 345.29 418.90C345.29 419.50 343.29 420.70 340.79 420.70L334.79 420.70C332.29 420.70 330.29 419.50 330.29 418.90Z" fill="rgb(0,0,0)" filter="url(#b0)"/>
<path d="M348.58 418.90Q348.58 417.10 350.38 417.10L361.78 417.10Q363.58 417.10 363.58 418.90C363.58 419.50 361.58 420.70 359.08 420.70L353.08 420.70C350.58 420.70 348.58 419.50 348.58 418.90Z" fill="rgb(0,0,0)" filter="url(#b0)"/>
<path d="M366.87 418.90Q366.87 417.10 368.67 417.10L380.07 417.10Q381.87 417.10 381.87 418.90C381.87 419.50 379.87 420.70 377.37 420.70L371.37 420.70C368.87 420.70 366.87 419.50 366.87 418.90Z" fill="rgb(0,0,0)" filter="url(#b0)"/>
<path d="M385.16 418.90Q385.16 417.10 386.96 417.10L398.36 417.10Q400.16 417.10 400.16 418.90C400.16 419.50 398.16 420.70 395.66 420.70L389.66 420.70C387.16 420.70 385.16 419.50 385.16 418.90Z" fill="rgb(0,0,0)" filter="url(#b0)"/>
<path d="M403.45 418.90Q403.45 417.30 405.05 417.30L416.85 417.30Q418.45 417.30 418.45 418.90C418.45 419.30 416.45 420.50 413.95 420.50L407.95 420.50C405.45 420.50 403.45 419.30 403.45 418.90Z" fill="rgb(0,0,0)" filter="url(#b0)"/>
<path d="M421.74 418.60Q421.74 416.60 423.74 416.60L434.74 416.60Q436.74 416.60 436.74 418.60C436.74 420.00 434.74 421.20 432.24 421.20L426.24 421.20C423.74 421.20 421.74 420.00 421.74 418.60Z" fill="rgb(0,0,0)" filter="url(#b0)"/>
<path d="M440.03 418.90Q440.03 417.10 441.83 417.10L453.23 417.10Q455.03 417.10 455.03 418.90C455.03 419.50 453.03 420.70 450.53 420.70L444.53 420.70C442.03 420.70 440.03 419.50 440.03 418.90Z" fill="rgb(0,0,0)" filter="url(#b0)"/>
<rect x="113.50" y="454.75" width="11.00" height="3.50" rx="1.75" fill="rgb(196,196,196)" filter="url(#b1)"/>
<path d="M128.60 456.35Q128.60 454.35 130.60 454.35L142.60 454.35Q144.60 454.35 144.60 456.35C144.60 457.45 142.60 458.45 140.10 458.45L133.10 458.45C130.60 458.45 128.60 457.45 128.60 456.35Z" fill="rgb(0,0,0)" filter="url(#b0)"/>
<path d="M146.89 456.35Q146.89 454.35 148.89 454.35L160.89 454.35Q162.89 454.35 162.89 456.35C162.89 457.45 160.89 458.45 158.39 458.45L151.39 458.45C148.89 458.45 146.89 457.45 146.89 456.35Z" fill="rgb(0,0,0)" filter="url(#b0)"/>
<path d="M165.18 456.35Q165.18 454.35 167.18 454.35L179.18 454.35Q181.18 454.35 181.18 456.35C181.18 457.45 179.18 458.45 176.68 458.45L169.68 458.45C167.18 458.45 165.18 457.45 165.18 456.35Z" fill="rgb(0,0,0)" filter="url(#b0)"/>
<path d="M183.47 456.35Q183.47 454.35 185.47 454.35L197.47 454.35Q199.47 454.35 199.47 456.35C199.47 457.45 197.47 458.45 194.97 458.45L187.97 458.45C185.47 458.45 183.47 457.45 183.47 456.35Z" fill="rgb(0,0,0)" filter="url(#b0)"/>
<path d="M201.76 456.35Q201.76 454.35 203.76 454.35L215.76 454.35Q217.76 454.35 217.76 456.35C217.76 457.45 215.76 458.45 213.26 458.45L206.26 458.45C203.76 458.45 201.76 457.45 201.76 456.35Z" fill="rgb(0,0,0)" filter="url(#b0)"/>
<path d="M220.05 456.35Q220.05 454.35 222.05 454.35L234.05 454.35Q236.05 454.35 236.05 456.35C236.05 457.45 234.05 458.45 231.55 458.45L224.55 458.45C222.05 458.45 220.05 457.45 220.05 456.35Z" fill="rgb(0,0,0)" filter="url(#b0)"/>
<path d="M238.34 456.35Q238.34 454.35 240.34 454.35L252.34 454.35Q254.34 454.35 254.34 456.35C254.34 457.45 252.34 458.45 249.84 458.45L242.84 458.45C240.34 458.45 238.34 457.45 238.34 456.35Z" fill="rgb(0,0,0)" filter="url(#b0)"/>
<path d="M256.63 456.35Q256.63 454.35 258.63 454.35L270.63 454.35Q272.63 454.35 272.63 456.35C272.63 457.45 270.63 458.45 268.13 458.45L261.13 458.45C258.63 458.45 256.63 457.45 256.63 456.35Z" fill="rgb(0,0,0)" filter="url(#b0)"/>
<path d="M274.92 456.35Q274.92 454.35 276.92 454.35L288.92 454.35Q290.92 454.35 290.92 456.35C290.92 457.45 288.92 458.45 286.42 458.45L279.42 458.45C276.92 458.45 274.92 457.45 274.92 456.35Z" fill="rgb(0,0,0)" filter="url(#b0)"/>
<path d="M293.21 456.35Q293.21 454.35 295.21 454.35L307.21 454.35Q309.21 454.35 309.21 456.35C309.21 457.45 307.21 458.45 304.71 458.45L297.71 458.45C295.21 458.45 293.21 457.45 293.21 456.35Z" fill="rgb(0,0,0)" filter="url(#b0)"/>
<path d="M311.50 456.35Q311.50 454.35 313.50 454.35L325.50 454.35Q327.50 454.35 327.50 456.35C327.50 457.45 325.50 458.45 323.00 458.45L316.00 458.45C313.50 458.45 311.50 457.45 311.50 456.35Z" fill="rgb(0,0,0)" filter="url(#b0)"/>
<path d="M329.79 456.35Q329.79 454.35 331.79 454.35L343.79 454.35Q345.79 454.35 345.79 456.35C345.79 457.45 343.79 458.45 341.29 458.45L334.29 458.45C331.79 458.45 329.79 457.45 329.79 456.35Z" fill="rgb(0,0,0)" filter="url(#b0)"/>
<path d="M348.08 456.35Q348.08 454.35 350.08 454.35L362.08 454.35Q364.08 454.35 364.08 456.35C364.08 457.45 362.08 458.45 359.58 458.45L352.58 458.45C350.08 458.45 348.08 457.45 348.08 456.35Z" fill="rgb(0,0,0)" filter="url(#b0)"/>
<path d="M366.37 456.35Q366.37 454.35 368.37 454.35L380.37 454.35Q382.37 454.35 382.37 456.35C382.37 457.45 380.37 458.45 377.87 458.45L370.87 458.45C368.37 458.45 366.37 457.45 366.37 456.35Z" fill="rgb(0,0,0)" filter="url(#b0)"/>
<path d="M384.66 456.35Q384.66 454.35 386.66 454.35L398.66 454.35Q400.66 454.35 400.66 456.35C400.66 457.45 398.66 458.45 396.16 458.45L389.16 458.45C386.66 458.45 384.66 457.45 384.66 456.35Z" fill="rgb(0,0,0)" filter="url(#b0)"/>
<path d="M402.95 456.40Q402.95 454.70 404.65 454.70L417.25 454.70Q418.95 454.70 418.95 456.40C418.95 457.10 416.95 458.10 414.45 458.10L407.45 458.10C404.95 458.10 402.95 457.10 402.95 456.40Z" fill="rgb(0,0,0)" filter="url(#b0)"/>
<path d="M421.24 456.40Q421.24 454.50 423.14 454.50L435.34 454.50Q437.24 454.50 437.24 456.40C437.24 457.30 435.24 458.30 432.74 458.30L425.74 458.30C423.24 458.30 421.24 457.30 421.24 456.40Z" fill="rgb(0,0,0)" filter="url(#b0)"/>
<path d="M439.53 456.35Q439.53 454.35 441.53 454.35L453.53 454.35Q455.53 454.35 455.53 456.35C455.53 457.45 453.53 458.45 451.03 458.45L444.03 458.45C441.53 458.45 439.53 457.45 439.53 456.35Z" fill="rgb(0,0,0)" filter="url(#b0)"/>
</g>
<text class="pl" x="7.77" y="502.00" font-size="13.8" fill="#1c1c1c" textLength="8.45" lengthAdjust="spacingAndGlyphs">C</text>
<line x1="87.20" y1="528.00" x2="87.20" y2="674.60" stroke="#1a1a1a" stroke-width="1.2"/>
<line x1="83.00" y1="674.00" x2="87.20" y2="674.00" stroke="#1a1a1a" stroke-width="1.1"/>
<text x="75.72" y="677.20" font-size="9.4" fill="#1c1c1c" textLength="4.60" lengthAdjust="spacingAndGlyphs">0</text>
<line x1="83.00" y1="659.75" x2="87.20" y2="659.75" stroke="#1a1a1a" stroke-width="1.1"/>
<text x="71.13" y="662.95" font-size="9.4" fill="#1c1c1c" textLength="9.20" lengthAdjust="spacingAndGlyphs">10</text>
<line x1="83.00" y1="645.50" x2="87.20" y2="645.50" stroke="#1a1a1a" stroke-width="1.1"/>
<text x="71.13" y="648.70" font-size="9.4" fill="#1c1c1c" textLength="9.20" lengthAdjust="spacingAndGlyphs">20</text>
<line x1="83.00" y1="631.25" x2="87.20" y2="631.25" stroke="#1a1a1a" stroke-width="1.1"/>
<text x="71.13" y="634.45" font-size="9.4" fill="#1c1c1c" textLength="9.20" lengthAdjust="spacingAndGlyphs">30</text>
<line x1="83.00" y1="617.00" x2="87.20" y2="617.00" stroke="#1a1a1a" stroke-width="1.1"/>
<text x="71.13" y="620.20" font-size="9.4" fill="#1c1c1c" textLength="9.20" lengthAdjust="spacingAndGlyphs">40</text>
<line x1="83.00" y1="602.75" x2="87.20" y2="602.75" stroke="#1a1a1a" stroke-width="1.1"/>
<text x="71.13" y="605.95" font-size="9.4" fill="#1c1c1c" textLength="9.20" lengthAdjust="spacingAndGlyphs">50</text>
<line x1="83.00" y1="588.50" x2="87.20" y2="588.50" stroke="#1a1a1a" stroke-width="1.1"/>
<text x="71.13" y="591.70" font-size="9.4" fill="#1c1c1c" textLength="9.20" lengthAdjust="spacingAndGlyphs">60</text>
<line x1="83.00" y1="574.25" x2="87.20" y2="574.25" stroke="#1a1a1a" stroke-width="1.1"/>
<text x="71.13" y="577.45" font-size="9.4" fill="#1c1c1c" textLength="9.20" lengthAdjust="spacingAndGlyphs">70</text>
<line x1="83.00" y1="560.00" x2="87.20" y2="560.00" stroke="#1a1a1a" stroke-width="1.1"/>
<text x="71.13" y="563.20" font-size="9.4" fill="#1c1c1c" textLength="9.20" lengthAdjust="spacingAndGlyphs">80</text>
<line x1="83.00" y1="545.75" x2="87.20" y2="545.75" stroke="#1a1a1a" stroke-width="1.1"/>
<text x="71.13" y="548.95" font-size="9.4" fill="#1c1c1c" textLength="9.20" lengthAdjust="spacingAndGlyphs">90</text>
<line x1="83.00" y1="531.50" x2="87.20" y2="531.50" stroke="#1a1a1a" stroke-width="1.1"/>
<text x="66.52" y="534.70" font-size="9.4" fill="#1c1c1c" textLength="13.80" lengthAdjust="spacingAndGlyphs">100</text>
<line x1="83.00" y1="674.00" x2="172.90" y2="674.00" stroke="#1a1a1a" stroke-width="1.3"/>
<text x="117.37" y="517.40" font-size="8.9" fill="#1c1c1c" textLength="24.56" lengthAdjust="spacingAndGlyphs">XBP1s</text>
<rect x="93.50" y="640.51" width="5.0" height="33.49" fill="url(#hatchG)"/>
<rect x="106.75" y="624.84" width="5.0" height="49.16" fill="#61646f"/>
<rect x="120.00" y="570.69" width="5.0" height="103.31" fill="#61646f"/>
<rect x="133.00" y="535.35" width="5.0" height="138.65" fill="#61646f"/>
<rect x="146.25" y="540.34" width="5.0" height="133.66" fill="#61646f"/>
<rect x="160.00" y="612.44" width="5.0" height="61.56" fill="#61646f"/>
<text x="91.45" y="689.70" font-size="9.7" fill="#1c1c1c" textLength="9.49" lengthAdjust="spacingAndGlyphs">24</text>
<text x="106.73" y="689.70" font-size="9.7" fill="#1c1c1c" textLength="4.75" lengthAdjust="spacingAndGlyphs">1</text>
<text x="119.93" y="689.70" font-size="9.7" fill="#1c1c1c" textLength="4.75" lengthAdjust="spacingAndGlyphs">2</text>
<text x="133.43" y="689.70" font-size="9.7" fill="#1c1c1c" textLength="4.75" lengthAdjust="spacingAndGlyphs">4</text>
<text x="146.43" y="689.70" font-size="9.7" fill="#1c1c1c" textLength="4.75" lengthAdjust="spacingAndGlyphs">8</text>
<text x="157.35" y="689.70" font-size="9.7" fill="#1c1c1c" textLength="9.49" lengthAdjust="spacingAndGlyphs">24</text>
<text x="171.70" y="689.70" font-size="9.7" fill="#1c1c1c" textLength="7.59" lengthAdjust="spacingAndGlyphs">hr</text>
<line x1="87.10" y1="674.00" x2="87.10" y2="697.60" stroke="#1a1a1a" stroke-width="1.1"/>
<line x1="168.90" y1="674.00" x2="168.90" y2="697.60" stroke="#1a1a1a" stroke-width="1.1"/>
<text x="106.69" y="703.80" font-size="9.8" fill="#1c1c1c" textLength="45.84" lengthAdjust="spacingAndGlyphs">25.0 mg/kg</text>
<text x="-0.38" y="0" font-size="10.8" fill="#1c1c1c" textLength="81.81" lengthAdjust="spacingAndGlyphs" transform="translate(57.50,642.15) rotate(-90)">% positive nuclei</text>
<line x1="225.80" y1="545.40" x2="225.80" y2="674.60" stroke="#1a1a1a" stroke-width="1.2"/>
<line x1="221.60" y1="674.00" x2="225.80" y2="674.00" stroke="#1a1a1a" stroke-width="1.1"/>
<text x="214.32" y="677.20" font-size="9.4" fill="#1c1c1c" textLength="4.60" lengthAdjust="spacingAndGlyphs">0</text>
<line x1="221.60" y1="660.10" x2="225.80" y2="660.10" stroke="#1a1a1a" stroke-width="1.1"/>
<text x="209.73" y="663.30" font-size="9.4" fill="#1c1c1c" textLength="9.20" lengthAdjust="spacingAndGlyphs">10</text>
<line x1="221.60" y1="646.20" x2="225.80" y2="646.20" stroke="#1a1a1a" stroke-width="1.1"/>
<text x="209.73" y="649.40" font-size="9.4" fill="#1c1c1c" textLength="9.20" lengthAdjust="spacingAndGlyphs">20</text>
<line x1="221.60" y1="632.30" x2="225.80" y2="632.30" stroke="#1a1a1a" stroke-width="1.1"/>
<text x="209.73" y="635.50" font-size="9.4" fill="#1c1c1c" textLength="9.20" lengthAdjust="spacingAndGlyphs">30</text>
<line x1="221.60" y1="618.40" x2="225.80" y2="618.40" stroke="#1a1a1a" stroke-width="1.1"/>
<text x="209.73" y="621.60" font-size="9.4" fill="#1c1c1c" textLength="9.20" lengthAdjust="spacingAndGlyphs">40</text>
<line x1="221.60" y1="604.50" x2="225.80" y2="604.50" stroke="#1a1a1a" stroke-width="1.1"/>
<text x="209.73" y="607.70" font-size="9.4" fill="#1c1c1c" textLength="9.20" lengthAdjust="spacingAndGlyphs">50</text>
<line x1="221.60" y1="590.60" x2="225.80" y2="590.60" stroke="#1a1a1a" stroke-width="1.1"/>
<text x="209.73" y="593.80" font-size="9.4" fill="#1c1c1c" textLength="9.20" lengthAdjust="spacingAndGlyphs">60</text>
<line x1="221.60" y1="576.70" x2="225.80" y2="576.70" stroke="#1a1a1a" stroke-width="1.1"/>
<text x="209.73" y="579.90" font-size="9.4" fill="#1c1c1c" textLength="9.20" lengthAdjust="spacingAndGlyphs">70</text>
<line x1="221.60" y1="562.80" x2="225.80" y2="562.80" stroke="#1a1a1a" stroke-width="1.1"/>
<text x="209.73" y="566.00" font-size="9.4" fill="#1c1c1c" textLength="9.20" lengthAdjust="spacingAndGlyphs">80</text>
<line x1="221.60" y1="548.90" x2="225.80" y2="548.90" stroke="#1a1a1a" stroke-width="1.1"/>
<text x="209.73" y="552.10" font-size="9.4" fill="#1c1c1c" textLength="9.20" lengthAdjust="spacingAndGlyphs">90</text>
<line x1="221.60" y1="674.00" x2="310.80" y2="674.00" stroke="#1a1a1a" stroke-width="1.3"/>
<text x="261.51" y="517.40" font-size="8.9" fill="#1c1c1c" textLength="12.44" lengthAdjust="spacingAndGlyphs">BIP</text>
<rect x="230.75" y="637.86" width="5.5" height="36.14" fill="url(#hatchM)"/>
<rect x="243.95" y="633.97" width="5.5" height="40.03" fill="#c0357b"/>
<rect x="257.15" y="628.83" width="5.5" height="45.17" fill="#c0357b"/>
<rect x="270.35" y="613.12" width="5.5" height="60.88" fill="#c0357b"/>
<rect x="283.75" y="586.71" width="5.5" height="87.29" fill="#c0357b"/>
<rect x="296.75" y="585.74" width="5.5" height="88.26" fill="#c0357b"/>
<text x="228.75" y="689.70" font-size="9.7" fill="#1c1c1c" textLength="9.49" lengthAdjust="spacingAndGlyphs">24</text>
<text x="244.13" y="689.70" font-size="9.7" fill="#1c1c1c" textLength="4.75" lengthAdjust="spacingAndGlyphs">1</text>
<text x="257.43" y="689.70" font-size="9.7" fill="#1c1c1c" textLength="4.75" lengthAdjust="spacingAndGlyphs">2</text>
<text x="270.93" y="689.70" font-size="9.7" fill="#1c1c1c" textLength="4.75" lengthAdjust="spacingAndGlyphs">4</text>
<text x="283.63" y="689.70" font-size="9.7" fill="#1c1c1c" textLength="4.75" lengthAdjust="spacingAndGlyphs">8</text>
<text x="294.65" y="689.70" font-size="9.7" fill="#1c1c1c" textLength="9.49" lengthAdjust="spacingAndGlyphs">24</text>
<text x="309.90" y="689.70" font-size="9.7" fill="#1c1c1c" textLength="7.59" lengthAdjust="spacingAndGlyphs">hr</text>
<line x1="225.40" y1="674.00" x2="225.40" y2="697.60" stroke="#1a1a1a" stroke-width="1.1"/>
<line x1="307.50" y1="674.00" x2="307.50" y2="697.60" stroke="#1a1a1a" stroke-width="1.1"/>
<text x="244.79" y="703.80" font-size="9.8" fill="#1c1c1c" textLength="45.74" lengthAdjust="spacingAndGlyphs">25.0 mg/kg</text>
<text x="-0.39" y="0" font-size="10.8" fill="#1c1c1c" textLength="82.11" lengthAdjust="spacingAndGlyphs" transform="translate(201.50,650.75) rotate(-90)">% positive nuclei</text>
<line x1="364.20" y1="523.30" x2="364.20" y2="674.60" stroke="#1a1a1a" stroke-width="1.2"/>
<line x1="360.00" y1="674.00" x2="364.20" y2="674.00" stroke="#1a1a1a" stroke-width="1.1"/>
<text x="352.72" y="677.20" font-size="9.4" fill="#1c1c1c" textLength="4.60" lengthAdjust="spacingAndGlyphs">0</text>
<line x1="360.00" y1="655.60" x2="364.20" y2="655.60" stroke="#1a1a1a" stroke-width="1.1"/>
<text x="348.13" y="658.80" font-size="9.4" fill="#1c1c1c" textLength="9.20" lengthAdjust="spacingAndGlyphs">10</text>
<line x1="360.00" y1="637.20" x2="364.20" y2="637.20" stroke="#1a1a1a" stroke-width="1.1"/>
<text x="348.13" y="640.40" font-size="9.4" fill="#1c1c1c" textLength="9.20" lengthAdjust="spacingAndGlyphs">20</text>
<line x1="360.00" y1="618.80" x2="364.20" y2="618.80" stroke="#1a1a1a" stroke-width="1.1"/>
<text x="348.13" y="622.00" font-size="9.4" fill="#1c1c1c" textLength="9.20" lengthAdjust="spacingAndGlyphs">30</text>
<line x1="360.00" y1="600.40" x2="364.20" y2="600.40" stroke="#1a1a1a" stroke-width="1.1"/>
<text x="348.13" y="603.60" font-size="9.4" fill="#1c1c1c" textLength="9.20" lengthAdjust="spacingAndGlyphs">40</text>
<line x1="360.00" y1="582.00" x2="364.20" y2="582.00" stroke="#1a1a1a" stroke-width="1.1"/>
<text x="348.13" y="585.20" font-size="9.4" fill="#1c1c1c" textLength="9.20" lengthAdjust="spacingAndGlyphs">50</text>
<line x1="360.00" y1="563.60" x2="364.20" y2="563.60" stroke="#1a1a1a" stroke-width="1.1"/>
<text x="348.13" y="566.80" font-size="9.4" fill="#1c1c1c" textLength="9.20" lengthAdjust="spacingAndGlyphs">60</text>
<line x1="360.00" y1="545.20" x2="364.20" y2="545.20" stroke="#1a1a1a" stroke-width="1.1"/>
<text x="348.13" y="548.40" font-size="9.4" fill="#1c1c1c" textLength="9.20" lengthAdjust="spacingAndGlyphs">70</text>
<line x1="360.00" y1="526.80" x2="364.20" y2="526.80" stroke="#1a1a1a" stroke-width="1.1"/>
<text x="348.13" y="530.00" font-size="9.4" fill="#1c1c1c" textLength="9.20" lengthAdjust="spacingAndGlyphs">80</text>
<line x1="360.00" y1="674.00" x2="452.20" y2="674.00" stroke="#1a1a1a" stroke-width="1.3"/>
<text x="397.03" y="517.40" font-size="8.9" fill="#1c1c1c" textLength="19.15" lengthAdjust="spacingAndGlyphs">ATF4</text>
<rect x="371.00" y="659.65" width="6.2" height="14.35" fill="url(#hatchB)"/>
<rect x="383.90" y="661.30" width="6.2" height="12.70" fill="#6b5434"/>
<rect x="397.70" y="649.16" width="6.2" height="24.84" fill="#6b5434"/>
<rect x="411.20" y="578.69" width="6.2" height="95.31" fill="#6b5434"/>
<rect x="424.90" y="542.99" width="6.2" height="131.01" fill="#6b5434"/>
<rect x="437.90" y="646.40" width="6.2" height="27.60" fill="#6b5434"/>
<text x="369.15" y="689.70" font-size="9.7" fill="#1c1c1c" textLength="9.49" lengthAdjust="spacingAndGlyphs">24</text>
<text x="385.03" y="689.70" font-size="9.7" fill="#1c1c1c" textLength="4.75" lengthAdjust="spacingAndGlyphs">1</text>
<text x="398.43" y="689.70" font-size="9.7" fill="#1c1c1c" textLength="4.75" lengthAdjust="spacingAndGlyphs">2</text>
<text x="411.73" y="689.70" font-size="9.7" fill="#1c1c1c" textLength="4.75" lengthAdjust="spacingAndGlyphs">4</text>
<text x="424.83" y="689.70" font-size="9.7" fill="#1c1c1c" textLength="4.75" lengthAdjust="spacingAndGlyphs">8</text>
<text x="436.25" y="689.70" font-size="9.7" fill="#1c1c1c" textLength="9.49" lengthAdjust="spacingAndGlyphs">24</text>
<text x="449.90" y="689.70" font-size="9.7" fill="#1c1c1c" textLength="7.59" lengthAdjust="spacingAndGlyphs">hr</text>
<line x1="364.20" y1="674.00" x2="364.20" y2="697.60" stroke="#1a1a1a" stroke-width="1.1"/>
<line x1="448.40" y1="674.00" x2="448.40" y2="697.60" stroke="#1a1a1a" stroke-width="1.1"/>
<text x="383.29" y="703.80" font-size="9.8" fill="#1c1c1c" textLength="45.53" lengthAdjust="spacingAndGlyphs">25.0 mg/kg</text>
<text x="-0.38" y="0" font-size="10.8" fill="#1c1c1c" textLength="81.51" lengthAdjust="spacingAndGlyphs" transform="translate(339.70,639.35) rotate(-90)">% positive nuclei</text>
<rect x="0" y="0" width="520" height="1" fill="#000"/>
<rect x="0" y="0" width="1" height="714" fill="#000"/>
<rect x="0" y="713" width="520" height="1" fill="#000"/>
<rect x="518" y="0" width="2" height="714" fill="#595959"/>
</svg>
</body></html>
